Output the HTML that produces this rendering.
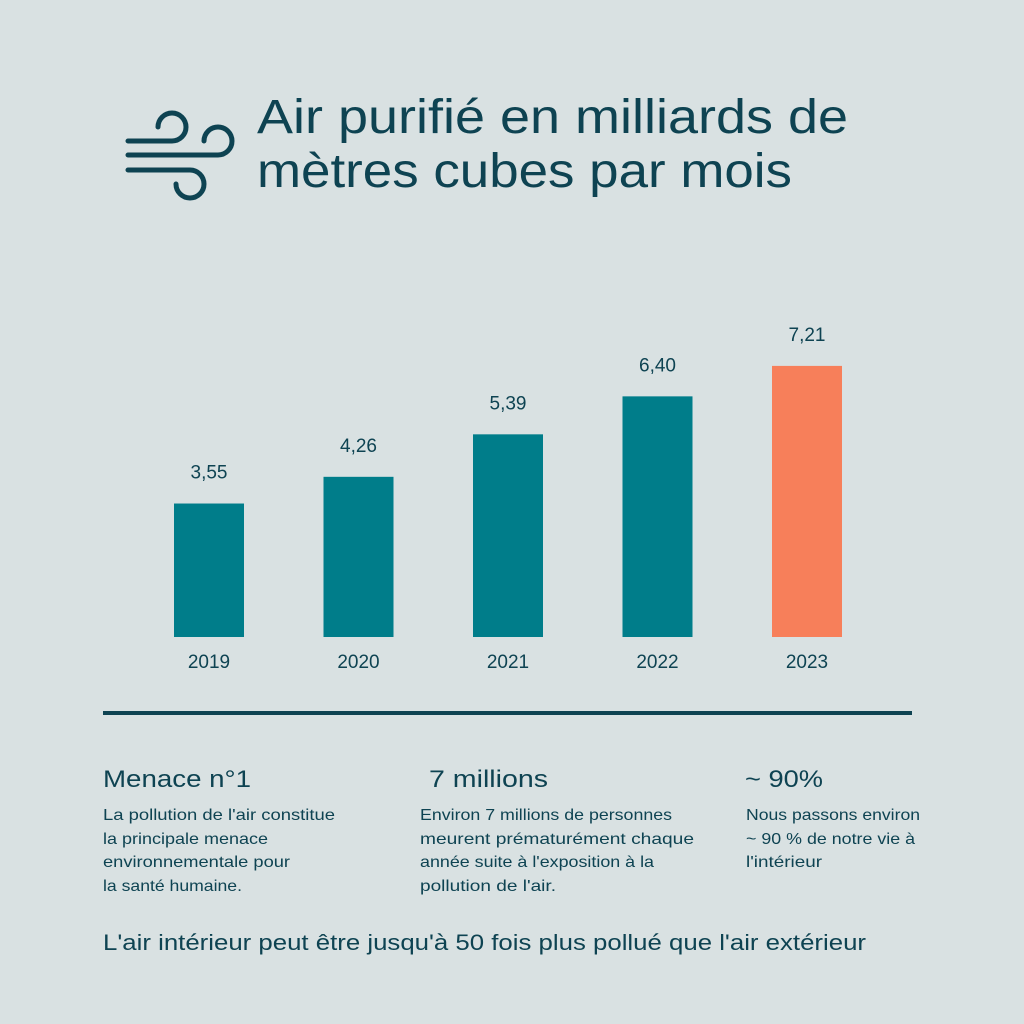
<!DOCTYPE html>
<html><head><meta charset="utf-8"><style>
html,body{margin:0;padding:0;background:#d9e1e2;}
svg{display:block;font-family:"Liberation Sans",sans-serif;}
</style></head><body>
<svg width="1024" height="1024" viewBox="0 0 1024 1024">
<rect width="1024" height="1024" fill="#d9e1e2"/>
<g fill="none" stroke="#0e4352" stroke-width="5" stroke-linecap="round">
<path d="M128 141 H172 A14 14 0 1 0 158 127"/>
<path d="M128 155 H218 A14 14 0 1 0 204 141"/>
<path d="M128 170 H190 A14 14 0 1 1 176 184"/>
</g>
<g fill="#0e4352">
<text x="257" y="133" font-size="48" textLength="591" lengthAdjust="spacingAndGlyphs">Air purifié en milliards de</text>
<text x="257" y="187" font-size="48" textLength="535" lengthAdjust="spacingAndGlyphs">mètres cubes par mois</text>
</g>
<g id="chart"></g>
<rect x="103" y="711" width="809" height="4" fill="#0e4352"/>
<g fill="#0e4352">
<text x="103" y="787" font-size="24" textLength="148" lengthAdjust="spacingAndGlyphs">Menace n°1</text>
<text x="429" y="787" font-size="24" textLength="119" lengthAdjust="spacingAndGlyphs">7 millions</text>
<text x="745" y="787" font-size="24" textLength="78" lengthAdjust="spacingAndGlyphs">~ 90%</text>
<g font-size="16">
<text x="103" y="820" textLength="232" lengthAdjust="spacingAndGlyphs">La pollution de l'air constitue</text>
<text x="103" y="844" textLength="165" lengthAdjust="spacingAndGlyphs">la principale menace</text>
<text x="103" y="867" textLength="187" lengthAdjust="spacingAndGlyphs">environnementale pour</text>
<text x="103" y="891" textLength="139" lengthAdjust="spacingAndGlyphs">la santé humaine.</text>
</g>
<g font-size="16">
<text x="420" y="820" textLength="252" lengthAdjust="spacingAndGlyphs">Environ 7 millions de personnes</text>
<text x="420" y="844" textLength="274" lengthAdjust="spacingAndGlyphs">meurent prématurément chaque</text>
<text x="420" y="867" textLength="234" lengthAdjust="spacingAndGlyphs">année suite à l'exposition à la</text>
<text x="420" y="891" textLength="136" lengthAdjust="spacingAndGlyphs">pollution de l'air.</text>
</g>
<g font-size="16">
<text x="746" y="820" textLength="174" lengthAdjust="spacingAndGlyphs">Nous passons environ</text>
<text x="746" y="844" textLength="169" lengthAdjust="spacingAndGlyphs">~ 90 % de notre vie à</text>
<text x="746" y="867" textLength="76" lengthAdjust="spacingAndGlyphs">l'intérieur</text>
</g>
<text x="103" y="950" font-size="22" textLength="763" lengthAdjust="spacingAndGlyphs">L'air intérieur peut être jusqu'à 50 fois plus pollué que l'air extérieur</text>
</g>
</svg>
<script>
const categories = ["2019","2020","2021","2022","2023"];
const values = [3.55, 4.26, 5.39, 6.40, 7.21];
const valueLabels = ["3,55","4,26","5,39","6,40","7,21"];
const highlight = [false,false,false,false,true];
const NS = "http://www.w3.org/2000/svg";
const g = document.getElementById("chart");
const baseY = 637, pxPerUnit = 37.6, x0 = 174, step = 149.5, bw = 70;
function xPos(i){ return x0 + i*step; }
function yPos(v){ return baseY - v*pxPerUnit; }
categories.forEach((c,i)=>{
  const r = document.createElementNS(NS,"rect");
  r.setAttribute("x", xPos(i)); r.setAttribute("y", yPos(values[i]));
  r.setAttribute("width", bw); r.setAttribute("height", baseY - yPos(values[i]));
  r.setAttribute("fill", highlight[i] ? "#f77f5a" : "#007d8a");
  
  
  g.appendChild(r);
  const t = document.createElementNS(NS,"text");
  t.setAttribute("x", xPos(i)+bw/2); t.setAttribute("y", yPos(values[i]) - 25);
  t.setAttribute("text-anchor","middle"); t.setAttribute("font-size","19"); t.setAttribute("fill","#0e4352");
  t.textContent = valueLabels[i];
  
  
  g.appendChild(t);
  const y = document.createElementNS(NS,"text");
  y.setAttribute("x", xPos(i)+bw/2); y.setAttribute("y", 668);
  y.setAttribute("text-anchor","middle"); y.setAttribute("font-size","19"); y.setAttribute("fill","#0e4352");
  y.textContent = c;
  
  
  g.appendChild(y);
});
</script>
</body></html>
